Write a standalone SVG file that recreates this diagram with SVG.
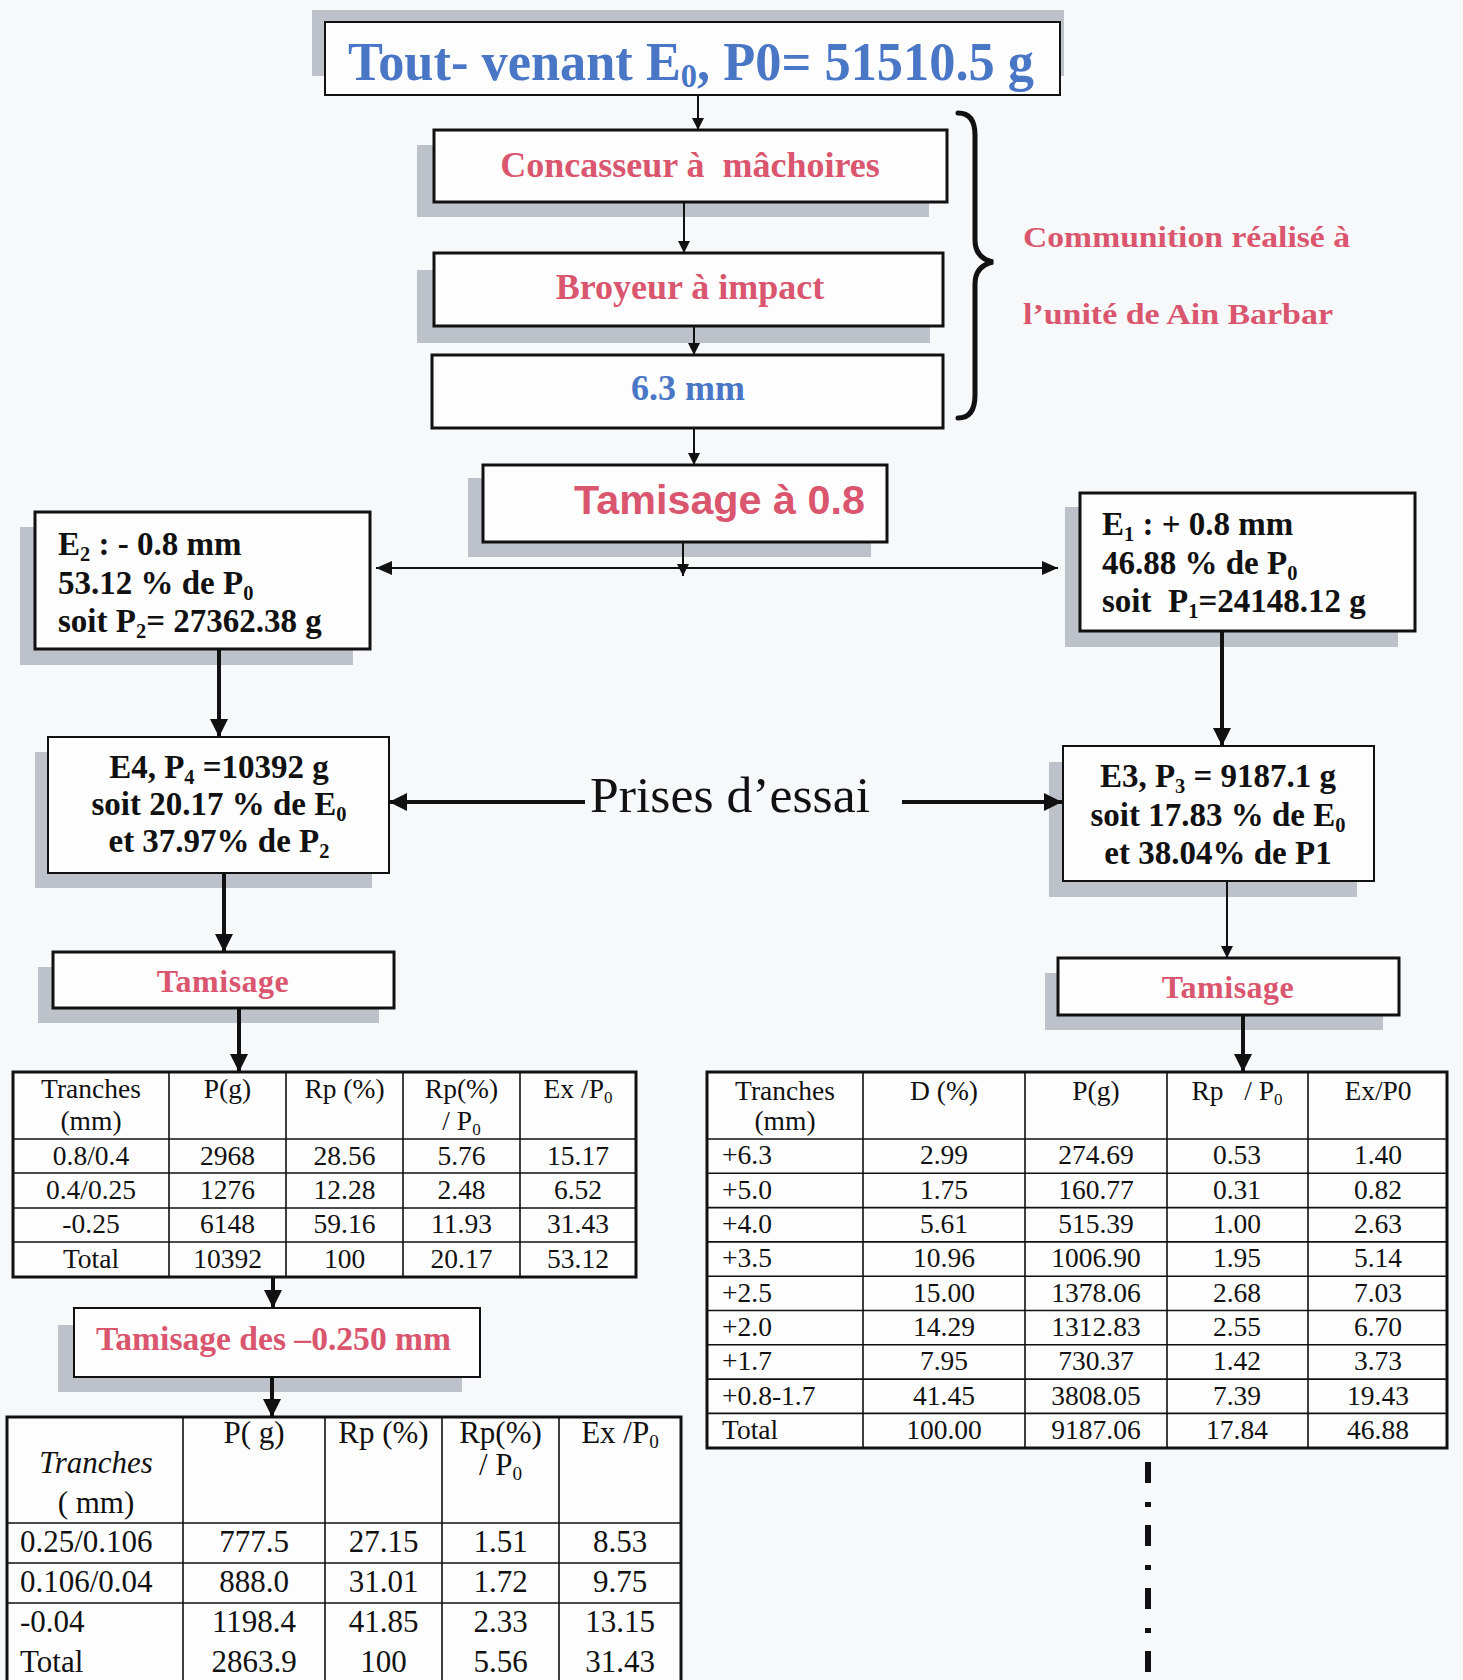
<svg xmlns="http://www.w3.org/2000/svg" width="1463" height="1680" viewBox="0 0 1463 1680">
<defs>
<style>
.bg{fill:#f7f8fa}
.sh{fill:#bcc1ca}
.bx{fill:#fdfdfe;stroke:#111;stroke-width:3}
.bt{fill:#fdfdfe;stroke:#111;stroke-width:2}
.serif{font-family:"Liberation Serif","Times New Roman",serif}
.sans{font-family:"Liberation Sans",Arial,sans-serif}
.b{font-weight:bold}
.red{fill:#d9566e}
.blue{fill:#4a76c6}
.ink{fill:#111}
.mid{text-anchor:middle}
.sb{font-size:62%}
.thin{stroke:#111;stroke-width:2;fill:none}
.thick{stroke:#111;stroke-width:4;fill:none}
.grid{stroke:#111;stroke-width:1.6}
.frame{fill:#fdfdfe;stroke:#111;stroke-width:3}
.cell{font-family:"Liberation Serif","Times New Roman",serif;fill:#111;text-anchor:middle}
.lft{text-anchor:start}
</style>
<marker id="a1" viewBox="0 0 12 12" markerWidth="12" markerHeight="12" refX="12" refY="6" orient="auto-start-reverse" markerUnits="userSpaceOnUse"><path d="M0,0 L12,6 L0,12 z" fill="#111"/></marker>
<marker id="a3" viewBox="0 0 16 14" markerWidth="16" markerHeight="14" refX="16" refY="7" orient="auto-start-reverse" markerUnits="userSpaceOnUse"><path d="M0,0 L16,7 L0,14 z" fill="#111"/></marker>
<marker id="a2" viewBox="0 0 18 18" markerWidth="18" markerHeight="18" refX="18" refY="9" orient="auto" markerUnits="userSpaceOnUse"><path d="M0,0 L18,9 L0,18 z" fill="#111"/></marker>
<linearGradient id="rule" x1="0" x2="1" y1="0" y2="0">
<stop offset="0" stop-color="#1b2a8c"/><stop offset="0.6" stop-color="#2a4f9a"/><stop offset="1" stop-color="#2a9a9a"/>
</linearGradient>
</defs>

<rect class="bg" x="0" y="0" width="1463" height="1680"/>

<!-- process chain -->
<g id="tout-venant">
<rect class="sh" x="312" y="10" width="752" height="66"/>
<rect class="bt" x="325" y="22" width="735" height="73"/>
<text class="serif b blue" x="348" y="80" font-size="54" textLength="686" lengthAdjust="spacingAndGlyphs">Tout- venant E<tspan class="sb" dy="7">0</tspan><tspan dy="-7">, P0= 51510.5 g</tspan></text>
</g>

<g id="concasseur">
<rect class="sh" x="417" y="145" width="512" height="72"/>
<rect class="bx" x="434" y="130" width="513" height="72"/>
<text class="serif b red mid" x="690" y="177" font-size="36" xml:space="preserve">Concasseur à  mâchoires</text>
</g>

<g id="broyeur">
<rect class="sh" x="417" y="270" width="513" height="73"/>
<rect class="bx" x="434" y="253" width="509" height="73"/>
<text class="serif b red mid" x="690" y="299" font-size="36">Broyeur à impact</text>
</g>

<g id="crible-63">
<rect class="bx" x="432" y="355" width="511" height="73"/>
<text class="serif b blue mid" x="688" y="400" font-size="36">6.3 mm</text>
</g>

<g id="tamisage-08">
<rect class="sh" x="468" y="478" width="403" height="79"/>
<rect class="bx" x="483" y="465" width="404" height="77"/>
<text class="sans b red" x="574" y="514" font-size="41" textLength="291" lengthAdjust="spacingAndGlyphs">Tamisage à 0.8</text>
</g>

<g id="communition">
<path d="M958 113 Q975 113 975 135 L975 240 Q975 258 993 262 Q975 266 975 284 L975 395 Q975 418 958 418" fill="none" stroke="#111" stroke-width="5" stroke-linecap="round"/>
<text class="serif b red" x="1023" y="247" font-size="30" textLength="327" lengthAdjust="spacingAndGlyphs">Communition réalisé à</text>
<text class="serif b red" x="1023" y="324" font-size="30" textLength="310" lengthAdjust="spacingAndGlyphs">l’unité de Ain Barbar</text>
</g>

<!-- fractions after the 0.8 mm screen -->
<g id="e2" class="serif b ink" font-size="33">
<rect class="sh" x="20" y="527" width="333" height="138"/>
<rect class="bx" x="35" y="512" width="335" height="137"/>
<text x="58" y="555">E<tspan class="sb" dy="6">2</tspan><tspan dy="-6"> : - 0.8 mm</tspan></text>
<text x="58" y="594">53.12 % de P<tspan class="sb" dy="6">0</tspan></text>
<text x="58" y="632">soit P<tspan class="sb" dy="6">2</tspan><tspan dy="-6">= 27362.38 g</tspan></text>
</g>

<g id="e1" class="serif b ink" font-size="33">
<rect class="sh" x="1065" y="507" width="333" height="140"/>
<rect class="bx" x="1080" y="493" width="335" height="138"/>
<text x="1102" y="535">E<tspan class="sb" dy="6">1</tspan><tspan dy="-6"> : + 0.8 mm</tspan></text>
<text x="1102" y="574">46.88 % de P<tspan class="sb" dy="6">0</tspan></text>
<text x="1102" y="612" xml:space="preserve">soit  P<tspan class="sb" dy="6">1</tspan><tspan dy="-6">=24148.12 g</tspan></text>
</g>

<g id="e4" class="serif b ink" font-size="33">
<rect class="sh" x="35" y="752" width="337" height="136"/>
<rect class="bt" x="48" y="737" width="341" height="136"/>
<text class="mid" x="219" y="778">E4, P<tspan class="sb" dy="6">4</tspan><tspan dy="-6"> =10392 g</tspan></text>
<text class="mid" x="219" y="815">soit 20.17 % de E<tspan class="sb" dy="6">0</tspan></text>
<text class="mid" x="219" y="852">et 37.97% de P<tspan class="sb" dy="6">2</tspan></text>
</g>

<g id="e3" class="serif b ink" font-size="33">
<rect class="sh" x="1049" y="762" width="308" height="135"/>
<rect class="bt" x="1063" y="746" width="311" height="135"/>
<text class="mid" x="1218" y="787">E3, P<tspan class="sb" dy="6">3</tspan><tspan dy="-6"> = 9187.1 g</tspan></text>
<text class="mid" x="1218" y="826">soit 17.83 % de E<tspan class="sb" dy="6">0</tspan></text>
<text class="mid" x="1218" y="864">et 38.04% de P1</text>
</g>

<g id="prises">
<text class="serif ink" x="590" y="812" font-size="50" textLength="280" lengthAdjust="spacingAndGlyphs">Prises d’essai</text>
</g>

<g id="tamisage-e4">
<rect class="sh" x="38" y="967" width="341" height="56"/>
<rect class="bx" x="53" y="952" width="341" height="56"/>
<text class="serif b red mid" x="223" y="992" font-size="32" letter-spacing="0.5">Tamisage</text>
</g>

<g id="tamisage-e3">
<rect class="sh" x="1045" y="973" width="338" height="57"/>
<rect class="bx" x="1058" y="958" width="341" height="57"/>
<text class="serif b red mid" x="1228" y="998" font-size="32" letter-spacing="0.5">Tamisage</text>
</g>

<g id="tamisage-fin">
<rect class="sh" x="58" y="1325" width="404" height="67"/>
<rect class="bt" x="74" y="1308" width="406" height="69"/>
<text class="serif b red" x="96" y="1350" font-size="33" textLength="355" lengthAdjust="spacingAndGlyphs">Tamisage des –0.250 mm</text>
</g>

<!-- table: E4 size fractions -->
<g id="table-e4" font-size="27.5">
<rect class="frame" x="13" y="1072" width="623" height="205"/>
<path class="grid" d="M169 1072V1277M286 1072V1277M403 1072V1277M520 1072V1277M13 1139H636M13 1173H636M13 1208H636M13 1242H636"/>
<g class="cell">
<text x="91" y="1098">Tranches</text><text x="91" y="1130">(mm)</text>
<text x="227.5" y="1098">P(g)</text>
<text x="344.5" y="1098">Rp (%)</text>
<text x="461.5" y="1098">Rp(%)</text><text x="461.5" y="1130">/ P<tspan class="sb" dy="5">0</tspan></text>
<text x="578" y="1098">Ex /P<tspan class="sb" dy="5">0</tspan></text>
<text x="91" y="1165">0.8/0.4</text><text x="227.5" y="1165">2968</text><text x="344.5" y="1165">28.56</text><text x="461.5" y="1165">5.76</text><text x="578" y="1165">15.17</text>
<text x="91" y="1199">0.4/0.25</text><text x="227.5" y="1199">1276</text><text x="344.5" y="1199">12.28</text><text x="461.5" y="1199">2.48</text><text x="578" y="1199">6.52</text>
<text x="91" y="1233">-0.25</text><text x="227.5" y="1233">6148</text><text x="344.5" y="1233">59.16</text><text x="461.5" y="1233">11.93</text><text x="578" y="1233">31.43</text>
<text x="91" y="1268">Total</text><text x="227.5" y="1268">10392</text><text x="344.5" y="1268">100</text><text x="461.5" y="1268">20.17</text><text x="578" y="1268">53.12</text>
</g>
</g>

<!-- table: E3 size fractions -->
<g id="table-e3" font-size="27.5">
<rect class="frame" x="707" y="1072" width="740" height="376"/>
<path class="grid" d="M863 1072V1448M1025 1072V1448M1167 1072V1448M1308 1072V1448M707 1139H1447M707 1173.3H1447M707 1207.6H1447M707 1241.9H1447M707 1276.2H1447M707 1310.5H1447M707 1344.8H1447M707 1379.1H1447M707 1413.4H1447"/>
<g class="cell">
<text x="785" y="1100">Tranches</text><text x="785" y="1130">(mm)</text>
<text x="944" y="1100">D (%)</text>
<text x="1096" y="1100">P(g)</text>
<text x="1237" y="1100" xml:space="preserve">Rp   / P<tspan class="sb" dy="5">0</tspan></text>
<text x="1378" y="1100">Ex/P0</text>
</g>
<g class="cell lft">
<text x="722" y="1164">+6.3</text><text x="722" y="1198.5">+5.0</text><text x="722" y="1233">+4.0</text><text x="722" y="1267">+3.5</text><text x="722" y="1301.5">+2.5</text><text x="722" y="1336">+2.0</text><text x="722" y="1370">+1.7</text><text x="722" y="1404.5">+0.8-1.7</text><text x="722" y="1439">Total</text>
</g>
<g class="cell">
<text x="944" y="1164">2.99</text><text x="1096" y="1164">274.69</text><text x="1237" y="1164">0.53</text><text x="1378" y="1164">1.40</text>
<text x="944" y="1198.5">1.75</text><text x="1096" y="1198.5">160.77</text><text x="1237" y="1198.5">0.31</text><text x="1378" y="1198.5">0.82</text>
<text x="944" y="1233">5.61</text><text x="1096" y="1233">515.39</text><text x="1237" y="1233">1.00</text><text x="1378" y="1233">2.63</text>
<text x="944" y="1267">10.96</text><text x="1096" y="1267">1006.90</text><text x="1237" y="1267">1.95</text><text x="1378" y="1267">5.14</text>
<text x="944" y="1301.5">15.00</text><text x="1096" y="1301.5">1378.06</text><text x="1237" y="1301.5">2.68</text><text x="1378" y="1301.5">7.03</text>
<text x="944" y="1336">14.29</text><text x="1096" y="1336">1312.83</text><text x="1237" y="1336">2.55</text><text x="1378" y="1336">6.70</text>
<text x="944" y="1370">7.95</text><text x="1096" y="1370">730.37</text><text x="1237" y="1370">1.42</text><text x="1378" y="1370">3.73</text>
<text x="944" y="1404.5">41.45</text><text x="1096" y="1404.5">3808.05</text><text x="1237" y="1404.5">7.39</text><text x="1378" y="1404.5">19.43</text>
<text x="944" y="1439">100.00</text><text x="1096" y="1439">9187.06</text><text x="1237" y="1439">17.84</text><text x="1378" y="1439">46.88</text>
</g>
</g>

<!-- table: fines below 0.250 mm -->
<g id="table-fines" font-size="31">
<rect class="frame" x="7" y="1417" width="674" height="270"/>
<path class="grid" d="M183 1417V1687M325 1417V1687M442 1417V1687M559 1417V1687M7 1523H681M7 1563H681M7 1603H681"/>
<path d="M7 1643H681" stroke="url(#rule)" stroke-width="2"/>
<g class="cell">
<text x="96" y="1473" font-style="italic">Tranches</text><text x="96" y="1513">( mm)</text>
<text x="254" y="1443">P( g)</text>
<text x="383.5" y="1443">Rp (%)</text>
<text x="500.5" y="1443">Rp(%)</text><text x="500.5" y="1475">/  P<tspan class="sb" dy="5">0</tspan></text>
<text x="620" y="1443">Ex /P<tspan class="sb" dy="5">0</tspan></text>
</g>
<g class="cell lft">
<text x="20" y="1552">0.25/0.106</text><text x="20" y="1592">0.106/0.04</text><text x="20" y="1632">-0.04</text><text x="20" y="1672">Total</text>
</g>
<g class="cell">
<text x="254" y="1552">777.5</text><text x="383.5" y="1552">27.15</text><text x="500.5" y="1552">1.51</text><text x="620" y="1552">8.53</text>
<text x="254" y="1592">888.0</text><text x="383.5" y="1592">31.01</text><text x="500.5" y="1592">1.72</text><text x="620" y="1592">9.75</text>
<text x="254" y="1632">1198.4</text><text x="383.5" y="1632">41.85</text><text x="500.5" y="1632">2.33</text><text x="620" y="1632">13.15</text>
<text x="254" y="1672">2863.9</text><text x="383.5" y="1672">100</text><text x="500.5" y="1672">5.56</text><text x="620" y="1672">31.43</text>
</g>
</g>

<!-- connectors -->
<g id="connectors">
<path class="thin" d="M698 95V130" marker-end="url(#a1)"/>
<path class="thin" d="M684 202V253" marker-end="url(#a1)"/>
<path class="thin" d="M694 326V355" marker-end="url(#a1)"/>
<path class="thin" d="M694 428V465" marker-end="url(#a1)"/>
<path class="thin" d="M683 542V576" marker-end="url(#a1)"/>
<path class="thin" d="M376 568H1058" stroke-width="3" marker-start="url(#a3)" marker-end="url(#a3)"/>
<path class="thick" d="M219 649V737" marker-end="url(#a2)"/>
<path class="thick" d="M1222 631V746" marker-end="url(#a2)"/>
<path class="thick" d="M585 802H389" marker-end="url(#a2)"/>
<path class="thick" d="M902 802H1062" marker-end="url(#a2)"/>
<path class="thick" d="M224 873V952" marker-end="url(#a2)"/>
<path class="thick" d="M239 1008V1072" marker-end="url(#a2)"/>
<path class="thin" d="M1227 881V958" marker-end="url(#a1)"/>
<path class="thick" d="M1243 1015V1072" marker-end="url(#a2)"/>
<path class="thick" d="M273 1277V1308" marker-end="url(#a2)"/>
<path class="thick" d="M272 1377V1417" marker-end="url(#a2)"/>
<path d="M1148 1462V1680" stroke="#111" stroke-width="6" stroke-dasharray="21 19 5 18"/>
</g>
</svg>
